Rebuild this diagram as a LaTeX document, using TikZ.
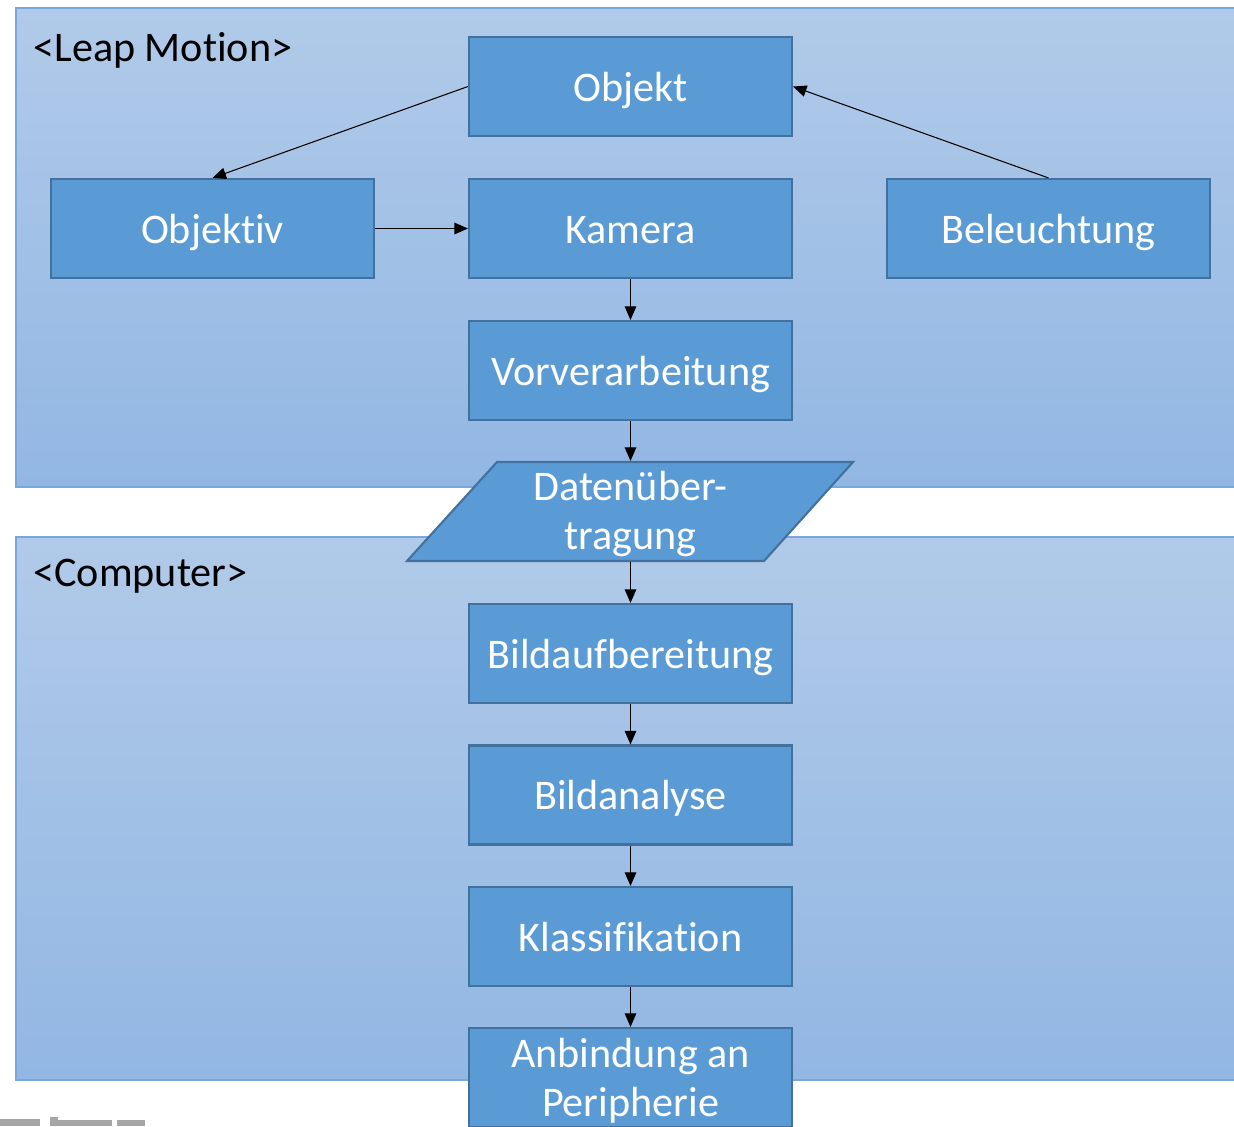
\documentclass[tikz,border=0pt]{standalone}
\usepackage{fontspec}
\setmainfont{Carlito}[Ligatures={NoCommon}]
\usetikzlibrary{arrows.meta}
\definecolor{boxfill}{HTML}{5B9BD5}
\definecolor{boxline}{HTML}{41719C}
\definecolor{contTop}{HTML}{B1CAE9}
\definecolor{contBot}{HTML}{92B7E3}
\definecolor{contLine}{HTML}{7AA6DB}
\tikzset{
  procbox/.style={draw=boxline, line width=1.2pt, fill=boxfill, text=white,
    minimum width=6.46cm, minimum height=1.98cm, inner sep=0pt, align=center,
    font=\fontsize{24}{27.5}\selectfont},
  onebox/.style={procbox, text height=17pt, text depth=0pt},
  boxtext/.style={text=white, inner sep=0pt, align=center, font=\fontsize{24}{27.5}\selectfont},
  container/.style={draw=contLine, line width=0.6pt, top color=contTop, bottom color=contBot},
  contlabel/.style={anchor=base west, inner sep=0pt, font=\fontsize{24}{28}\selectfont},
  conn/.style={-{Triangle[length=0.27cm,width=0.23cm]}, line width=0.6pt, black}
}
\begin{document}
\begin{tikzpicture}[x=0.02cm,y=-0.02cm]
\useasboundingbox (0,0) rectangle (1234,1126);
\clip (0,0) rectangle (1234,1126);
% containers
\path[container] (16,8) rectangle (1240,487);
\path[container] (16,537) rectangle (1240,1080);
\node[contlabel] (lm) at (33,61) {<Leap Motion>};
\node[contlabel] (pc) at (33,586) {<Computer>};
% boxes
\node[onebox] (objekt) at (630.5,86.5) {Objekt};
\node[onebox] (objektiv) at (212.5,228.5) {Objektiv};
\node[onebox] (kamera) at (630.5,228.5) {Kamera};
\node[onebox] (beleucht) at (1048.5,228.5) {Beleuchtung};
\node[onebox] (vorver) at (630.5,370.5) {Vorverarbeitung};
% parallelogram
\draw[draw=boxline, line width=1.2pt, fill=boxfill] (497,462) -- (853,462) -- (764,561) -- (407,561) -- cycle;
\node[procbox, draw=none, fill=none] (daten) at (630.5,511.5) {};
\node[boxtext] (datentext) at (630.5,514) {Datenüber-\\tragung};
\node[onebox] (bildauf) at (630.5,653.5) {Bildaufbereitung};
\node[onebox] (bildana) at (630.5,795) {Bildanalyse};
\node[onebox] (klass) at (630.5,936.5) {Klassifikation};
\node[procbox, text depth=0pt] (anb) at (630.5,1077.5) {Anbindung an\\Peripherie};
% connectors
\draw[conn] (objekt.west) -- (objektiv.north);
\draw[conn] (objektiv.east) -- (kamera.west);
\draw[conn] (beleucht.north) -- (objekt.east);
\draw[conn] (kamera.south) -- (vorver.north);
\draw[conn] (vorver.south) -- (daten.north);
\draw[conn] (daten.south) -- (bildauf.north);
\draw[conn] (bildauf.south) -- (bildana.north);
\draw[conn] (bildana.south) -- (klass.north);
\draw[conn] (klass.south) -- (anb.north);
% gray marks at bottom left
\fill[gray!70] (0,1119) rectangle (40,1126);
\fill[gray!70] (50,1117) rectangle (58,1126);
\fill[gray!70] (58,1120) rectangle (112,1126);
\fill[gray!70] (117,1120) rectangle (145,1126);
\end{tikzpicture}
\end{document}
